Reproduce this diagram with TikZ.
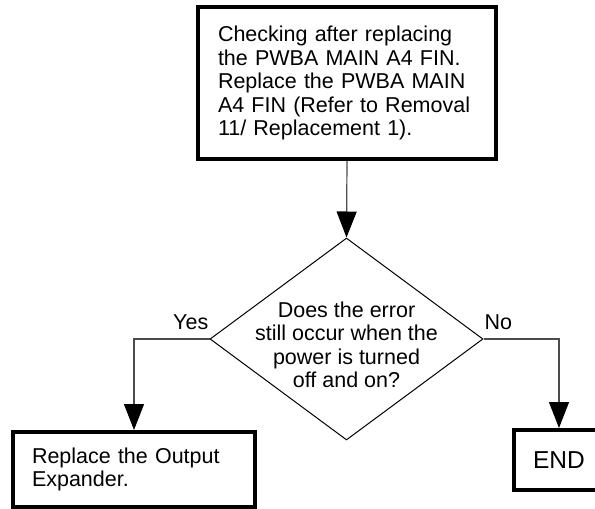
\documentclass[tikz,border=0pt]{standalone}
\usepackage{fontspec}
\setmainfont{Liberation Sans}
\usetikzlibrary{shapes.geometric,arrows.meta,positioning}

\begin{document}
\begin{tikzpicture}[x=1pt, y=-1pt,
    stepbox/.style={rectangle, draw=black, line width=4pt, align=left,
        font=\fontsize{21.5}{23.5}\selectfont, inner xsep=20pt},
    decision/.style={diamond, draw=black, line width=1pt,
        minimum width=273pt, minimum height=202pt, inner sep=0pt},
    note/.style={font=\fontsize{21.5}{23.5}\selectfont, inner sep=0pt},
    link/.style={-{Triangle[length=26pt, width=20pt, black]}, line width=1.2pt, black!70}
]
    \clip (0,0) rectangle (595,509);

    \node[stepbox, text width=258pt, minimum height=152pt] (check) at (347,83)
        {Checking after replacing\\ the PWBA MAIN A4 FIN.\\ Replace the PWBA MAIN\\ A4 FIN (Refer to Removal\\ 11/ Replacement 1).};
    \node[decision] (dec) at (346.5,339) {};
    \node[note, align=center] (question) at (dec.center) [yshift=-6pt]
        {Does the error\\ still occur when the\\ power is turned\\ off and on?};
    \node[stepbox, text width=204pt, inner xsep=19pt, minimum height=75pt] (replace) at (134,469.5)
        {Replace the Output\\ Expander.};
    \node[stepbox, minimum width=90pt, minimum height=60pt, inner xsep=10pt,
        font=\fontsize{24.5}{26}\selectfont] (finish) at (559,460) {END};

    \draw[link] (check.south) -- (dec.north);
    \draw[link] (dec.west) -| (replace.north);
    \draw[link] (dec.east) -| (finish.north);

    \node[note, anchor=south east, xshift=-1pt, yshift=9pt] (yes) at (dec.west) {Yes};
    \node[note, anchor=south west, xshift=1pt, yshift=9pt] (no) at (dec.east) {No};
\end{tikzpicture}
\end{document}
